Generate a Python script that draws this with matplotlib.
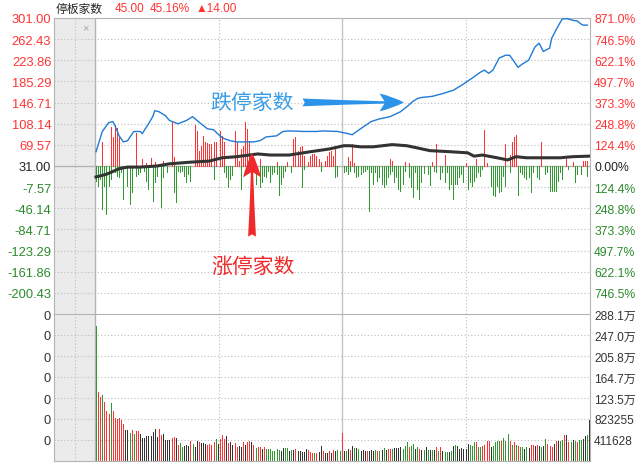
import numpy as np
import matplotlib
matplotlib.use('Agg')
import matplotlib.pyplot as plt

plt.rcParams['font.family'] = ['Liberation Sans', 'Noto Sans CJK SC', 'DejaVu Sans']

# ---- data (bar index 0..235, one bar per time slot) ----
N = 236
BASE = 31.0          # zero line of the upper panel
STEP = 270 / 7       # left axis tick step

# red bars (above the line)
red_idx = [3, 7, 8, 9, 10, 11, 19, 22, 24, 26, 28, 32, 36, 37,
           47, 48, 49, 50, 51, 52, 53, 54, 55, 56, 57, 59, 60, 61,
           66, 67, 68, 69, 70, 71, 72, 73, 78, 86, 91,
           94, 95, 96, 97, 98, 99, 101, 102, 103, 104, 105, 106, 107,
           109, 110, 111, 112, 113, 114, 120, 121, 122, 123,
           140, 141, 147, 149, 160, 162, 166, 176, 181, 185, 186,
           195, 197, 198, 199, 200, 212, 224, 227, 232, 233, 234]
red_val = [44, 72, 53, 74, 70, 52, 61, 13, 6, 15, 7, 9, 83, 17,
           74, 64, 28, 37, 55, 44, 42, 40, 40, 44, 44, 63, 55, 44,
           64, 44, 9, 31, 37, 81, 68, 46, 13, 7, 7,
           50, 53, 28, 35, 37, 18, 7, 18, 22, 22, 18, 13, 7,
           9, 18, 26, 28, 18, 35, 17, 9, 40, 6,
           13, 9, 7, 6, 7, 40, 20, 6, 13, 66, 6,
           40, 20, 44, 53, 57, 44, 13, 7, 9, 9, 9]

# green bars (below the line)
green_idx = [0, 1, 2, 3, 4, 5, 6, 7,
             9, 10, 11, 12, 13,
             15, 16, 17,
             19, 20, 21,
             23, 24, 25,
             27, 28, 29,
             31, 32,
             34,
             37, 38, 39, 40, 41, 42, 43, 44, 45,
             56,
             61, 62, 63, 64, 65,
             69,
             76,
             78, 79, 80, 81, 82, 83, 84, 85, 86, 87, 88, 89, 90,
             93,
             98, 99,
             107,
             114, 115,
             118, 119, 120, 121,
             123, 124, 125, 126, 127, 128, 129, 130, 131, 132, 133, 134, 135,
             136, 137, 138, 139, 140, 141, 142, 143, 144, 145, 146, 147,
             149, 150, 151, 152, 153, 154, 155, 156,
             158, 159,
             161, 162,
             164, 165, 166, 167, 168, 169, 170, 171, 172, 173, 174, 175,
             177, 178, 179, 180, 181, 182, 183, 184,
             188, 189, 190, 191, 192, 193, 194, 195,
             197,
             201, 202, 203, 204, 205, 206, 207, 208,
             210, 211,
             214, 215, 216, 217, 218, 219, 220, 221, 222,
             225,
             228, 229,
             231,
             234]
green_val = [28, 37, 24, 79, 37, 88, 37, 24,
             11, 18, 20, 11, 61,
             37, 70, 48,
             18, 15, 11,
             9, 28, 42,
             64, 29, 18,
             75, 20,
             11,
             48, 66, 9, 11, 9, 18, 29, 15, 28,
             24,
             11, 20, 39, 24, 17,
             42,
             33,
             39, 29, 18, 20, 9, 29, 15, 11, 15, 52, 33, 20, 9,
             11,
             39, 6,
             9,
             20, 18,
             11, 9, 15, 9,
             11, 20, 18, 15, 11, 9, 6, 83, 11, 33, 11, 28, 20,
             33, 39, 33, 20, 15, 9, 29, 20, 42, 46, 33, 9,
             20, 39, 57, 11, 42, 61, 29, 13,
             15, 35,
             9, 11,
             24, 11, 29, 11, 42, 33, 61, 33, 33, 20, 15, 29,
             42, 29, 37, 28, 20, 11, 18, 6,
             37, 52, 55, 37, 48, 46, 18, 37,
             11,
             52, 11, 15, 20, 24, 20, 48, 11,
             20, 24,
             15, 11, 46, 46, 46, 46, 28, 11, 24,
             6,
             29, 15,
             15,
             18]

# blue line
blue_x = [0, 3, 6, 8, 9, 11, 13, 15, 18, 21, 22, 25, 27, 28, 30, 33, 35, 39, 43, 46,
          50, 53, 56, 59, 61, 64, 67, 72, 75, 78, 81, 86, 89, 92, 99, 105, 108, 115, 120, 122,
          126, 131, 135, 140, 145, 148, 151, 153, 155, 160, 165, 170, 174, 179, 183, 185, 187, 189, 192, 195,
          197, 201, 203, 206, 209, 211, 213, 216, 217, 220, 222, 224, 228, 229, 231, 232, 234]
blue_y = [57, 94, 110, 112, 105, 86, 75, 77, 94, 94, 90, 108, 121, 132, 130, 123, 114, 108, 114, 121,
          108, 99, 97, 86, 81, 77, 75, 75, 75, 77, 84, 86, 94, 95, 94, 94, 95, 94, 90, 88,
          99, 112, 117, 121, 130, 139, 149, 154, 156, 158, 163, 169, 178, 191, 202, 206, 200, 206, 228, 233,
          233, 211, 217, 224, 248, 255, 240, 246, 264, 286, 299, 300, 296, 296, 290, 288, 288]

# black line
black_x = [0, 5, 11, 15, 21, 29, 35, 45, 54, 60, 67, 77, 83, 92, 102, 111, 118, 121, 126, 132,
           141, 148, 153, 159, 169, 177, 180, 184, 191, 196, 200, 205, 211, 218, 221, 227, 235]
black_y = [11, 16, 26, 29, 29, 31, 35, 38, 40, 46, 48, 53, 51, 51, 57, 62, 68, 68, 66, 66,
           70, 68, 64, 59, 57, 55, 49, 51, 46, 42, 48, 46, 46, 46, 46, 48, 49]

# volume (万) and colour per bar: r / g / k
vol = [265, 135, 125, 129, 116, 98, 92, 114, 98, 84,
       82, 84, 80, 73, 61, 61, 55, 61, 53, 59,
       59, 53, 45, 45, 49, 49, 49, 57, 63, 47,
       63, 51, 53, 41, 41, 41, 45, 47, 45, 31,
       35, 27, 29, 31, 29, 39, 33, 27, 39, 37,
       35, 35, 33, 31, 33, 31, 37, 43, 33, 43,
       51, 43, 49, 35, 37, 31, 35, 27, 29, 27,
       37, 31, 37, 39, 37, 31, 25, 27, 27, 24,
       27, 24, 24, 24, 20, 20, 24, 22, 20, 25,
       25, 25, 20, 22, 22, 24, 20, 20, 18, 18,
       24, 22, 18, 16, 16, 16, 18, 29, 20, 16,
       16, 20, 16, 22, 20, 22, 20, 55, 20, 20,
       24, 22, 29, 25, 25, 24, 20, 22, 20, 20,
       20, 22, 20, 22, 20, 20, 22, 25, 22, 24,
       24, 24, 25, 25, 25, 27, 24, 29, 37, 27,
       29, 33, 24, 27, 24, 22, 22, 27, 22, 22,
       22, 22, 27, 20, 27, 20, 18, 18, 18, 20,
       29, 31, 29, 24, 25, 24, 24, 33, 31, 29,
       37, 37, 27, 27, 29, 31, 39, 39, 27, 29,
       37, 39, 39, 39, 45, 39, 53, 39, 31, 37,
       31, 29, 27, 27, 24, 27, 25, 31, 31, 29,
       31, 29, 27, 29, 43, 33, 29, 27, 33, 39,
       39, 39, 41, 51, 51, 37, 37, 41, 39, 37,
       41, 41, 43, 49, 51, 80]
vol_col = ("grrgrrrgrr" "rrrrkkgrgr" "rkkkkkkkkk" "rrkkkkrrkr" "ggkkkrgkkr"
           "kkkrrrrgkr" "rrkrkkrrkk" "rkrrkrgrrk" "rggggggg" "kk" "ggkgkrkkkk"
           "krrrgrkkrk" "krkrkggrkg" "krkgkgkkkr" "kkkgrgkgkr" "rgkkkkgggr"
           "ggkgrkgkgk" "gkrgrkggkg" "kgkkkkkkgg" "grggrrrrkg" "gggrgggrgr"
           "grggkgkrrk" "rkgkgrrrkr" "kggrkrgkgr" "ggkkgk")

left_ticks = [BASE + k * STEP for k in range(-6, 8)]
pct_labels = ['746.5%', '622.1%', '497.7%', '373.3%', '248.8%', '124.4%', '0.00%',
              '124.4%', '248.8%', '373.3%', '497.7%', '622.1%', '746.5%', '871.0%']
vol_step = 41.1628
vol_ticks = [vol_step * k for k in range(1, 8)]
vol_labels = ['411628', '823255', '123.5万', '164.7万', '205.8万', '247.0万', '288.1万']

RED = '#ff3333'
GREEN = '#2f9a2f'
DARK = '#333333'
GRID = '#bcbcbc'
FRAME = '#b4b4b4'
colmap = {'r': RED, 'g': GREEN, 'k': DARK}
BAR_LW = 0.5   # drawn as a single pixel

# ---- figure ----
W, H = 639, 464
fig = plt.figure(figsize=(W / 100, H / 100), dpi=100)


def px_axes(x0, y0, x1, y1):
    return fig.add_axes([x0 / W, 1 - y1 / H, (x1 - x0) / W, (y1 - y0) / H])


ax = px_axes(54, 19, 590, 315)
axv = px_axes(54, 315, 590, 462)
XL = (-20, 235.24)

for a in (ax, axv):
    a.set_xlim(*XL)
    a.set_xticks([])
    a.axvspan(XL[0], -0.5, color='#ebebeb', zorder=0, lw=0)
    a.axvline(-0.5, color=FRAME, lw=1, zorder=1)
    a.axvline(-10, color=GRID, lw=0.8, ls=(0, (1, 2)), zorder=1)
    a.axvline(58.6, color=GRID, lw=0.8, ls=(0, (1, 2)), zorder=1)
    a.axvline(117.1, color='#c4c4c4', lw=1, zorder=1)
    a.axvline(176.2, color=GRID, lw=0.8, ls=(0, (1, 2)), zorder=1)
    for s in a.spines.values():
        s.set_color(FRAME)
    a.tick_params(length=0)

# upper panel
ax.set_ylim(BASE - 7 * STEP, BASE + 7 * STEP)
for t in left_ticks:
    if abs(t - BASE) > 1e-6:
        ax.axhline(t, color=GRID, lw=0.8, ls=(0, (1, 2)), zorder=1)
ax.axhline(BASE, color=FRAME, lw=1, zorder=1)
ax.spines['bottom'].set_visible(False)

ax.vlines(red_idx, BASE, [BASE + v for v in red_val], colors=RED, lw=BAR_LW,
          antialiased=False, zorder=2)
ax.vlines(green_idx, [BASE - v for v in green_val], BASE, colors=GREEN, lw=BAR_LW,
          antialiased=False, zorder=2)
ax.plot(blue_x, blue_y, color='#1f7bd6', lw=1.0, zorder=3)
ax.plot(black_x, black_y, color=DARK, lw=2.2, zorder=3)

ax.set_yticks(left_ticks)
ax.set_yticklabels(['%.2f' % t for t in left_ticks], fontsize=9.3)
for t, lab in zip(left_ticks, ax.get_yticklabels()):
    lab.set_color('#222222' if abs(t - BASE) < 1e-6 else (RED if t > BASE else '#2b8a2b'))
ax.tick_params(axis='y', pad=2)

ax2 = ax.twinx()
ax2.set_ylim(ax.get_ylim())
ax2.set_yticks(left_ticks)
ax2.set_yticklabels(pct_labels, fontsize=8.8)
for t, lab in zip(left_ticks, ax2.get_yticklabels()):
    lab.set_color('#222222' if abs(t - BASE) < 1e-6 else (RED if t > BASE else '#2b8a2b'))
ax2.tick_params(length=0, pad=3)
for s in ax2.spines.values():
    s.set_visible(False)

# annotations
ax.annotate('', xy=(148, 147), xytext=(97, 147),
            arrowprops=dict(arrowstyle='fancy,head_length=1.1,head_width=0.8,tail_width=0.35',
                            color='#2b93e8', lw=0, mutation_scale=16), zorder=5)
ax.text(54.5, 147, '跌停家数', color='#3a9de6', fontsize=15, va='center', ha='left',
        family=['Noto Sans CJK SC'], zorder=5)
ax.annotate('', xy=(74.3, 60), xytext=(74.3, -103),
            arrowprops=dict(arrowstyle='fancy,head_length=1.1,head_width=0.8,tail_width=0.35',
                            color='#f02a2a', lw=0, mutation_scale=16), zorder=5)
ax.text(55, -152, '涨停家数', color='#f02a2a', fontsize=15, va='center', ha='left',
        family=['Noto Sans CJK SC'], zorder=5)
ax.text(-5.2, 284, '×', color='#a8a8a8', fontsize=8, ha='center', va='center')

# volume panel
axv.set_ylim(0, 7 * vol_step)
for t in vol_ticks[:-1]:
    axv.axhline(t, color=GRID, lw=0.8, ls=(0, (1, 2)), zorder=1)
axv.vlines(range(N), 0, vol, colors=[colmap[c] for c in vol_col], lw=BAR_LW,
           antialiased=False, zorder=2)
axv.set_yticks(vol_ticks)
axv.set_yticklabels(['0'] * len(vol_ticks), fontsize=9.3, color='#333333')
axv.tick_params(axis='y', pad=2)
axv2 = axv.twinx()
axv2.set_ylim(axv.get_ylim())
axv2.set_yticks(vol_ticks)
axv2.set_yticklabels(vol_labels, fontsize=8.6, color='#333333')
axv2.tick_params(length=0, pad=3)
for s in axv2.spines.values():
    s.set_visible(False)

# header
fig.text(56 / W, 1 - 9 / H, '停板家数', fontsize=8.5, color='#222222', va='center',
         family=['Noto Sans CJK SC'])
fig.text(115 / W, 1 - 9 / H, '45.00', fontsize=8.5, color=RED, va='center')
fig.text(150 / W, 1 - 9 / H, '45.16%', fontsize=8.5, color=RED, va='center')
fig.text(196 / W, 1 - 9 / H, '▲14.00', fontsize=8.5, color=RED, va='center',
         family=['Liberation Sans', 'DejaVu Sans'])

fig.savefig('out.png', dpi=100)
